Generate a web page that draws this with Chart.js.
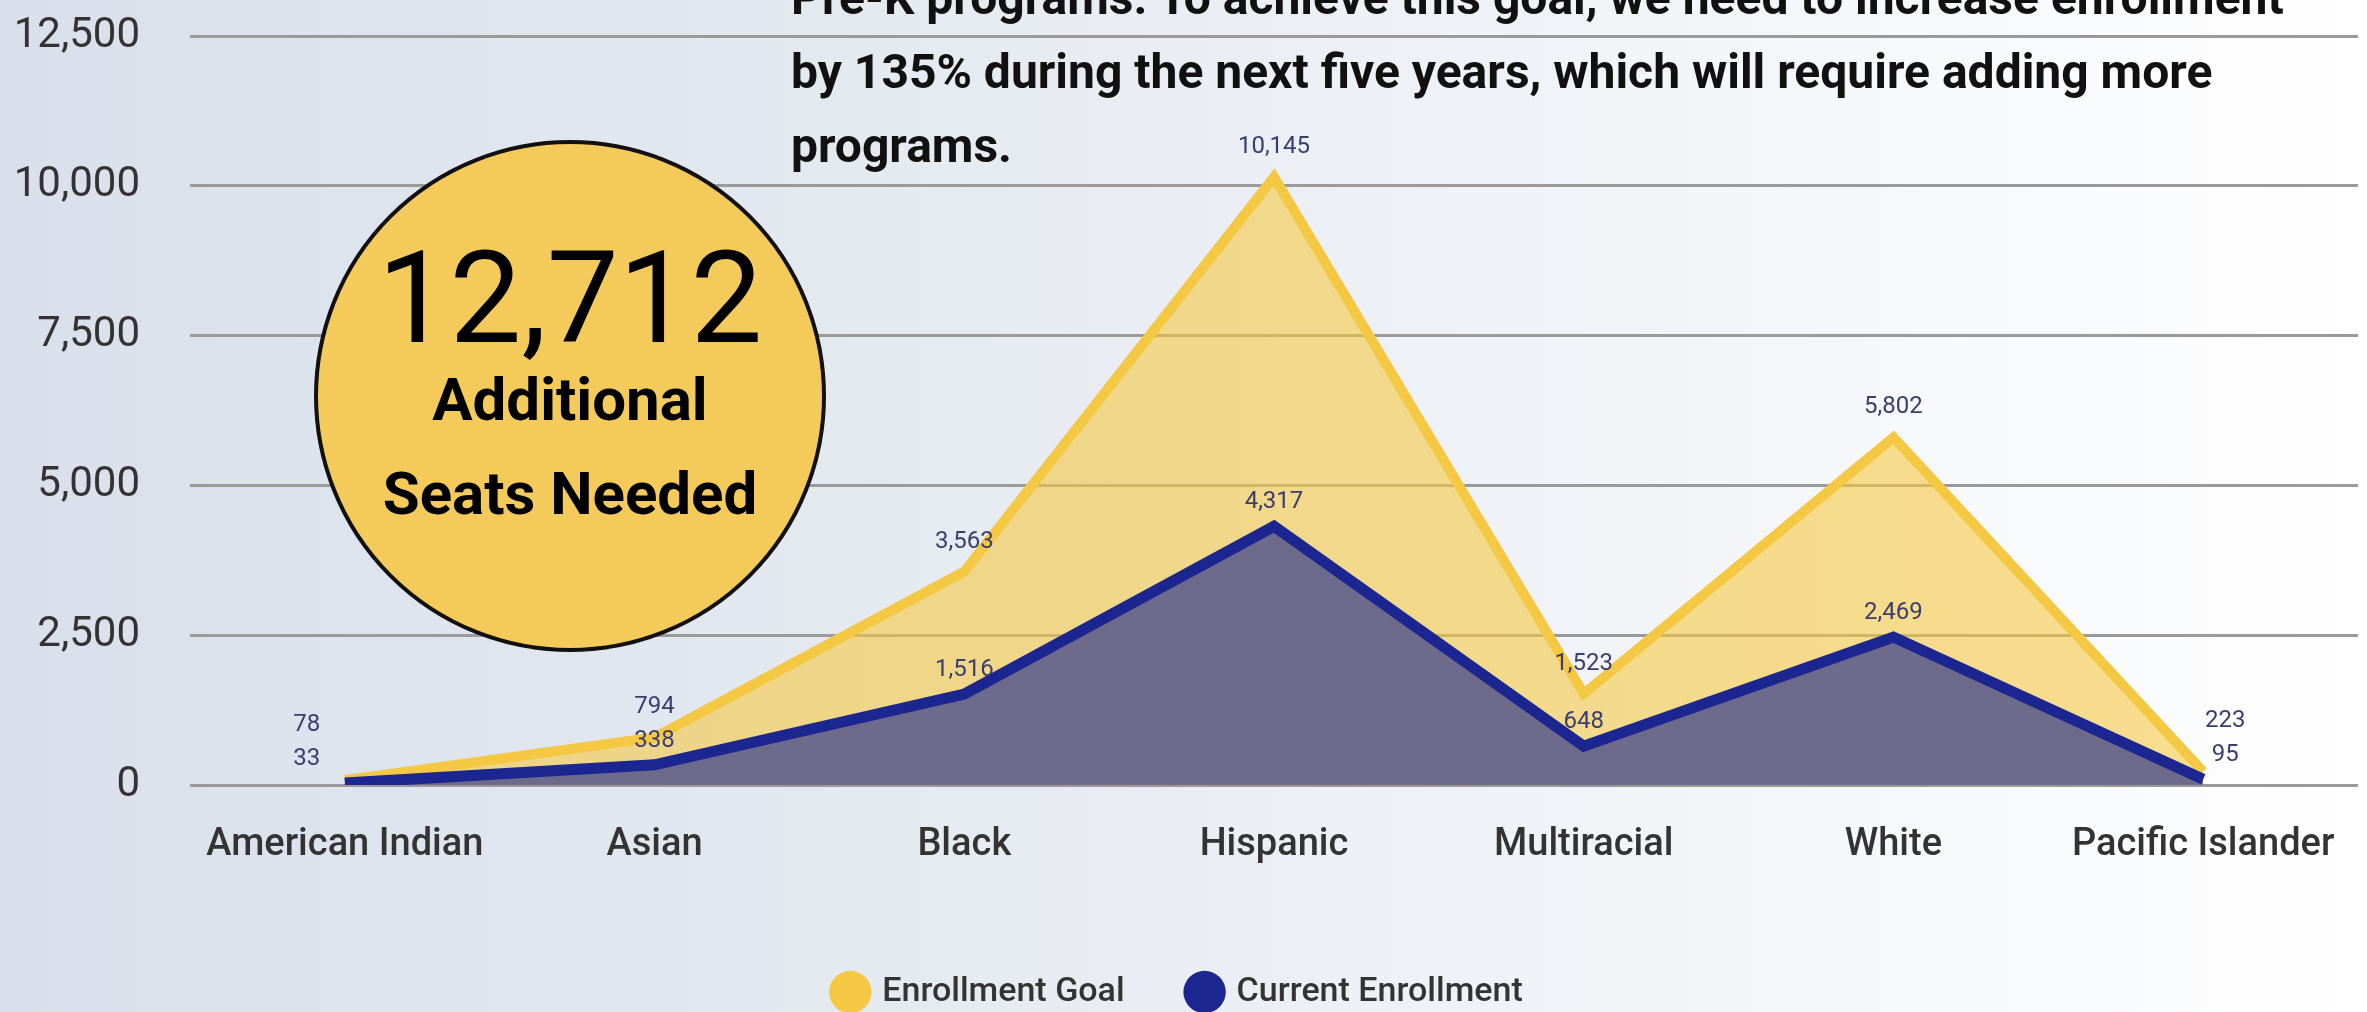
<!DOCTYPE html>
<html>
<head>
<meta charset="utf-8">
<script src="https://cdn.jsdelivr.net/npm/chart.js@4.4.1/dist/chart.umd.min.js"></script>
<style>
  html, body { margin: 0; padding: 0; width: 2367px; height: 1012px; overflow: hidden; }
  body {
    background: linear-gradient(90deg, #d9e0eb 0%, #e4e9f0 35%, #f2f4f8 70%, #ffffff 100%);
    font-family: Roboto, sans-serif;
  }
  #wrap { position: absolute; left: 0; top: 0; width: 2367px; height: 1030px; }
  #note {
    position: absolute; left: 791px; top: -39px; z-index: 2;
    font: 700 48px/74px Roboto, sans-serif; color: #111; white-space: nowrap;
  }
  #badge {
    position: absolute; left: 314px; top: 140px; z-index: 2;
    width: 504px; height: 504px; border: 4px solid #111; border-radius: 50%;
    background: #f4ca5a; color: #000; text-align: center;
  }
  #badge div { position: absolute; left: 0; width: 100%; white-space: nowrap; }
  #badge .big { top: 90px; font: 400 128px/128px Roboto, sans-serif; }
  #badge .sub1 { top: 226px; font: 700 60px/60px Roboto, sans-serif; }
  #badge .sub2 { top: 320px; font: 700 60px/60px Roboto, sans-serif; }
</style>
</head>
<body>
<div id="wrap"><canvas id="enrollmentChart"></canvas></div>
<div id="note">Pre-K programs. To achieve this goal, we need to increase enrollment<br>by 135% during the next five years, which will require adding more<br>programs.</div>
<div id="badge">
  <div class="big">12,712</div>
  <div class="sub1">Additional</div>
  <div class="sub2">Seats Needed</div>
</div>
<script>
// Chart data
const categories = ['American Indian', 'Asian', 'Black', 'Hispanic', 'Multiracial', 'White', 'Pacific Islander'];
const enrollmentGoal = [78, 794, 3563, 10145, 1523, 5802, 223];
const currentEnrollment = [33, 338, 1516, 4317, 648, 2469, 95];
const yTickValues = [0, 2500, 5000, 7500, 10000, 12500];

function fmt(v) {
    return v.toLocaleString('en-US');
}

// Value labels above each point, goal label pushed up when it would hit the current one
const valueLabels = {
    id: 'valueLabels',
    afterDatasetsDraw(chart) {
        const ctx = chart.ctx;
        const goalMeta = chart.getDatasetMeta(0);
        const curMeta = chart.getDatasetMeta(1);
        const last = categories.length - 1;
        ctx.save();
        ctx.font = '24px Roboto';
        ctx.fillStyle = '#3b3d6c';
        ctx.textAlign = 'center';
        ctx.textBaseline = 'middle';
        categories.forEach((c, i) => {
            const g = goalMeta.data[i];
            const k = curMeta.data[i];
            const dx = i === 0 ? -38 : (i === last ? 22 : 0);
            const curY = k.y - 24;
            const goalY = Math.min(g.y - 30, curY - 34);
            ctx.fillText(fmt(currentEnrollment[i]), k.x + dx, curY);
            ctx.fillText(fmt(enrollmentGoal[i]), g.x + dx, goalY);
        });
        ctx.restore();
    }
};

document.addEventListener('DOMContentLoaded', function() {
    Chart.defaults.font.family = 'Roboto';
    Chart.defaults.color = '#333';

    const chartEl = document.getElementById('enrollmentChart');
    new Chart(chartEl, {
        type: 'line',
        data: {
            labels: categories,
            datasets: [
                {
                    label: 'Enrollment Goal',
                    data: enrollmentGoal,
                    borderColor: '#f5c844',
                    backgroundColor: 'rgba(245, 200, 66, 0.6)',
                    borderWidth: 10,
                    borderJoinStyle: 'miter',
                    pointRadius: 0,
                    pointStyle: 'circle',
                    fill: 'origin',
                    order: 2
                },
                {
                    label: 'Current Enrollment',
                    data: currentEnrollment,
                    borderColor: '#1c2690',
                    backgroundColor: '#6d6a8c',
                    borderWidth: 11,
                    borderJoinStyle: 'miter',
                    pointRadius: 0,
                    pointStyle: 'circle',
                    fill: 'origin',
                    order: 1
                }
            ]
        },
        options: {
            responsive: true,
            maintainAspectRatio: false,
            animation: false,
            layout: { padding: { left: 0, right: 9, top: 36, bottom: 11 } },
            scales: {
                x: {
                    offset: true,
                    grid: { display: false },
                    border: { display: false },
                    ticks: {
                        padding: 30,
                        color: '#333',
                        font: { size: 38, weight: '500' }
                    },
                    afterFit: function(scale) { scale.height = 125; }
                },
                y: {
                    min: 0,
                    max: 12500,
                    afterBuildTicks: function(scale) {
                        scale.ticks = yTickValues.map(v => ({ value: v }));
                    },
                    // invisible tick marks give the gap between labels and grid
                    grid: { color: '#9a9a9a', lineWidth: 3, drawTicks: true, tickLength: 50, tickColor: 'rgba(0,0,0,0)' },
                    border: { display: false },
                    ticks: {
                        padding: 0,
                        color: '#333',
                        font: { size: 42 },
                        callback: function(value) { return fmt(value); }
                    },
                    afterFit: function(scale) { scale.width = 190; }
                }
            },
            plugins: {
                legend: {
                    position: 'bottom',
                    labels: {
                        usePointStyle: true,
                        boxWidth: 30,
                        boxHeight: 30,
                        padding: 65,
                        color: '#333',
                        font: { size: 34, weight: '500' },
                        sort: function(a, b) { return a.datasetIndex - b.datasetIndex; },
                        generateLabels: function(chart) {
                            const items = Chart.defaults.plugins.legend.labels.generateLabels(chart);
                            items.forEach(item => {
                                item.fillStyle = item.strokeStyle;
                                item.lineWidth = 0;
                            });
                            return items;
                        }
                    }
                },
                tooltip: { enabled: false }
            }
        },
        plugins: [valueLabels]
    });
});
</script>
</body>
</html>
